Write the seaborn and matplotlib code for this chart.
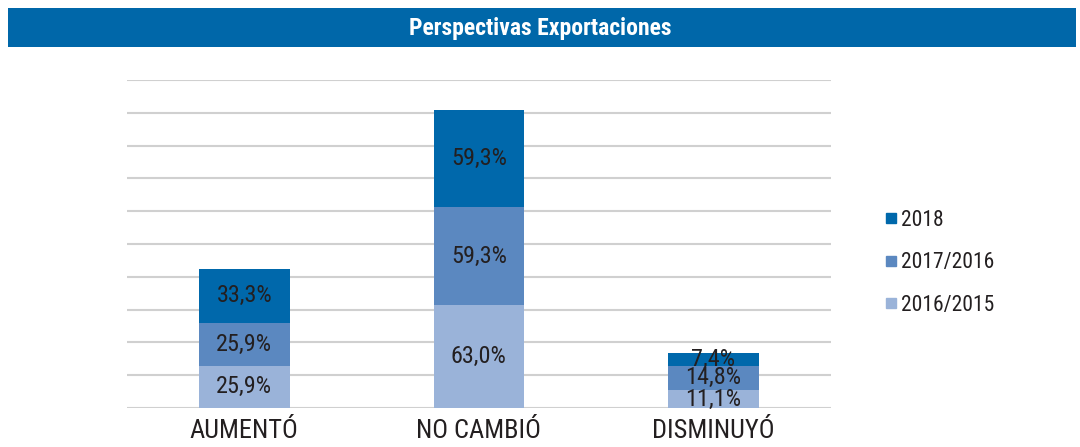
import numpy as np
import pandas as pd
import matplotlib
matplotlib.use("Agg")
import matplotlib.pyplot as plt
import seaborn as sns
from matplotlib.lines import Line2D
from matplotlib.patches import Rectangle

categories = ["AUMENTÓ", "NO CAMBIÓ", "DISMINUYÓ"]
v_2016_2015 = [25.9, 63.0, 11.1]
v_2017_2016 = [25.9, 59.3, 14.8]
v_2018 = [33.3, 59.3, 7.4]
series_names = ["2016/2015", "2017/2016", "2018"]
colors = {"2016/2015": "#9AB3D9", "2017/2016": "#5B88C0", "2018": "#0068AB"}

sns.set_style("white")
plt.rcParams["font.family"] = ["Roboto Condensed", "DejaVu Sans"]

df = pd.DataFrame({"cat": categories, "2016/2015": v_2016_2015,
                   "2017/2016": v_2017_2016, "2018": v_2018})
cum = df[series_names].cumsum(axis=1)
bottoms = cum - df[series_names]

fig = plt.figure(figsize=(10.8, 4.47), dpi=100)
ax = fig.add_axes([0.1176, 0.087, 0.6515, 0.734])

# title bar
fig.patches.append(Rectangle((8 / 1080, 1 - 47 / 447), 1068 / 1080, 39 / 447,
                             transform=fig.transFigure, facecolor="#0067A9",
                             edgecolor="none", zorder=0))
fig.text(0.5, 1 - 29 / 447, "Perspectivas Exportaciones", color="white",
         fontsize=17, fontweight="bold", ha="center", va="center")

# stacked bars: cumulative totals drawn from the top series down
for name in reversed(series_names):
    sns.barplot(x=df["cat"], y=cum[name], color=colors[name], width=0.386,
                saturation=1, linewidth=0, ax=ax, zorder=3)

for i in range(len(categories)):
    for name in series_names:
        y = bottoms.loc[i, name] + df.loc[i, name] / 2
        ax.text(i, y, f"{df.loc[i, name]:.1f}".replace(".", ",") + "%",
                ha="center", va="center", fontsize=17.5, color="#231F20", zorder=4)

ax.set_ylim(0, 200)
ax.set_xlim(-0.5, 2.5)
ax.set_yticks(np.arange(0, 201, 20))
ax.yaxis.grid(True, color="#D0D0D0", linewidth=1.5)
ax.set_axisbelow(True)
ax.set_yticklabels([])
ax.tick_params(axis="y", length=0)
ax.tick_params(axis="x", length=0, labelsize=19, labelcolor="#231F20", pad=8)
ax.set_xlabel("")
ax.set_ylabel("")
for s in ax.spines.values():
    s.set_visible(False)

handles = [Line2D([], [], marker="s", linestyle="none", markersize=7.5,
                  color=colors[n]) for n in reversed(series_names)]
fig.legend(handles, list(reversed(series_names)), loc="center left",
           bbox_to_anchor=(0.802, 0.412), frameon=False, fontsize=15.5,
           handlelength=0.5, handletextpad=0.2, labelspacing=1.0,
           labelcolor="#231F20")

fig.savefig("out.png", dpi=100)
